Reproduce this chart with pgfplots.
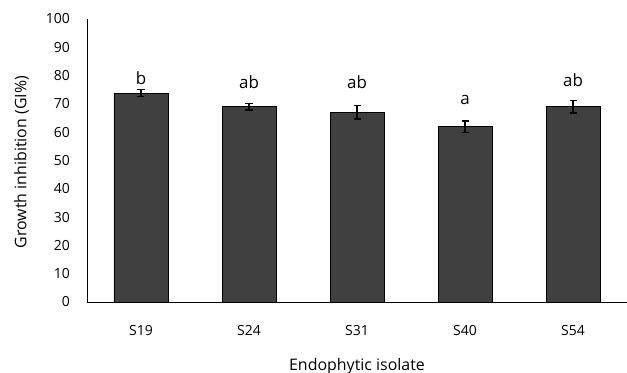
\documentclass[border=0pt]{standalone}
\usepackage{fontspec}
\setmainfont{Open Sans}
\usepackage{pgfplots}
\pgfplotsset{compat=1.18}
\definecolor{barfill}{HTML}{404040}
\begin{document}
\begin{tikzpicture}
\begin{axis}[
  name=ax,
  scale only axis,
  width=540bp, height=283bp,
  xmin=-0.5, xmax=4.5,
  ymin=0, ymax=100,
  ytick={0,10,...,100},
  xtick={0,1,2,3,4},
  xticklabels={S19,S24,S31,S40,S54},
  axis x line*=bottom,
  axis y line*=left,
  axis line style={black, line width=0.8pt},
  major tick length=0pt,
  tick label style={font=\fontsize{14}{16}\selectfont, inner sep=0pt},
  /pgf/number format/assume math mode=true,
  xticklabel style={anchor=north},
  yticklabel style={anchor=east},
  xticklabel shift=23bp,
  yticklabel shift=17bp,
  xlabel={Endophytic isolate},
  ylabel={Growth inhibition (GI\%)},
  label style={font=\fontsize{16}{18}\selectfont, inner sep=0pt},
  xlabel style={at={(axis description cs:0.5,0)}, anchor=north, yshift=-56bp},
  ylabel style={at={(axis description cs:-0.1213,0.494)}, anchor=center},
  clip=false,
]
\addplot[ybar, bar width=0.5, fill=barfill, draw=black, line width=0.6pt,
  error bars/.cd, y dir=both, y explicit,
  error bar style={line width=1.4pt, black},
  error mark options={rotate=90, mark size=3.5bp, line width=1.4pt}]
  coordinates {
  (0,73.8) +- (0,1.2)
  (1,69.0) +- (0,1.1)
  (2,67.1) +- (0,2.4)
  (3,62.0) +- (0,2.0)
  (4,69.0) +- (0,2.2)
  };
\begin{scope}[every node/.style={anchor=base, font=\fontsize{17}{19}\selectfont, inner sep=0pt}]
\node at (axis cs:0,76.7) {b};
\node at (axis cs:1,75.6) {ab};
\node at (axis cs:2,75.6) {ab};
\node at (axis cs:3,69.8) {a};
\node at (axis cs:4,76.3) {ab};
\end{scope}
\end{axis}
\pgfresetboundingbox
\path ([shift={(-87bp,-71bp)}]ax.south west) rectangle ([shift={(0bp,19bp)}]ax.north east);
\end{tikzpicture}
\end{document}
